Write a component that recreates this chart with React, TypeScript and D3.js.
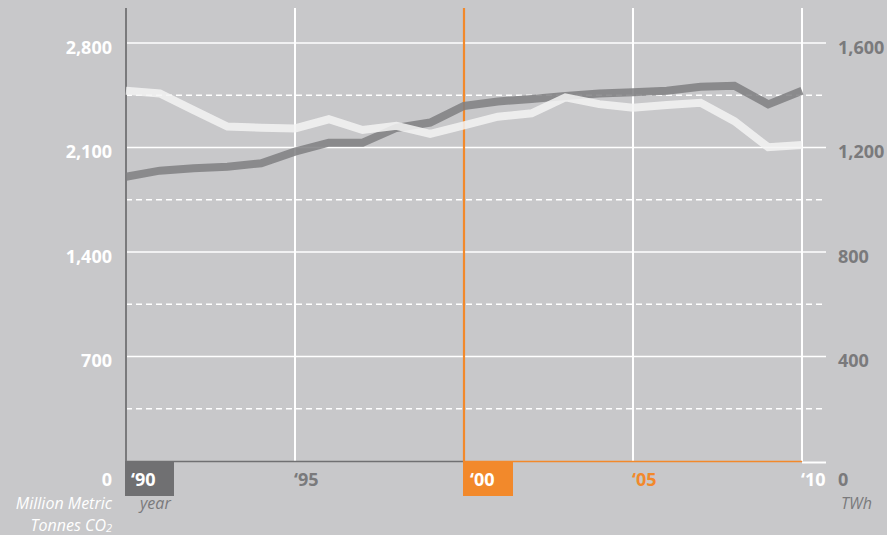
import React from "react";
import * as d3 from "d3";

const years = [1990, 1991, 1992, 1993, 1994, 1995, 1996, 1997, 1998, 1999, 2000, 2001, 2002, 2003, 2004, 2005, 2006, 2007, 2008, 2009, 2010];
// CO2 emissions, million metric tonnes (left axis)
const co2 = [1904, 1945, 1961, 1971, 1994, 2072, 2132, 2132, 2231, 2267, 2378, 2408, 2425, 2445, 2462, 2470, 2480, 2507, 2514, 2389, 2480];
// Electricity, TWh (right axis)
const twh = [1417, 1407, 1343, 1280, 1276, 1273, 1308, 1267, 1283, 1252, 1285, 1318, 1331, 1392, 1366, 1352, 1363, 1371, 1301, 1201, 1210];

const leftTicks = [700, 1400, 2100, 2800];
const leftTickLabels = ["700", "1,400", "2,100", "2,800"];
const rightTickLabels = ["400", "800", "1,200", "1,600"];
const dashedTicks = [350, 1050, 1750, 2450];
const xTicks = [1990, 1995, 2000, 2005, 2010];
const xTickLabels = ["\u201890", "\u201895", "\u201800", "\u201805", "\u201810"];

const W = 887, H = 535;
const BG = "#c8c8ca";
const ORANGE = "#f2892b";
const DARKGRAY = "#707072";
const LABELGRAY = "#7a7a7c";
const FONT = "'Open Sans', 'DejaVu Sans', sans-serif";
const FS = 18;
const IFS = 16;

export default function App() {
  const x = d3.scaleLinear().domain([1990, 2010]).range([126, 802]);
  const yL = d3.scaleLinear().domain([0, 2800]).range([461, 43]);
  const yR = d3.scaleLinear().domain([0, 1600]).range([461, 43]);
  const top = 8;
  const gridRight = 826;

  const lineL = d3.line<number>().x((_, i) => x(years[i])).y((d) => yL(d)).curve(d3.curveLinear);
  const lineR = d3.line<number>().x((_, i) => x(years[i])).y((d) => yR(d)).curve(d3.curveLinear);

  const labelColor = (i: number) => (i === 0 || i === 2 ? "#fff" : i === 1 ? LABELGRAY : i === 3 ? ORANGE : "#fff");

  return (
    <div style={{ position: "fixed", left: 0, top: 0, width: W, height: H, background: BG }}>
      <svg width={W} height={H} style={{ display: "block", fontFamily: FONT }}>
        <rect x={0} y={0} width={W} height={H} fill={BG} />
        {/* horizontal solid grid */}
        {leftTicks.map((t) => (
          <line key={"g" + t} x1={x(1990)} x2={gridRight} y1={yL(t)} y2={yL(t)} stroke="#fff" strokeWidth={1.6} />
        ))}
        {dashedTicks.map((t) => (
          <line key={"d" + t} x1={x(1990)} x2={gridRight} y1={yL(t)} y2={yL(t)} stroke="#fff" strokeWidth={1.4} strokeDasharray="6 4" />
        ))}
        {/* vertical white grid */}
        {[1995, 2005, 2010].map((yr) => (
          <line key={"v" + yr} x1={x(yr)} x2={x(yr)} y1={top} y2={yL(0)} stroke="#fff" strokeWidth={2} />
        ))}
        {/* bottom axis segments */}
        <line x1={x(1990)} x2={x(2000)} y1={yL(0) + 0.5} y2={yL(0) + 0.5} stroke={DARKGRAY} strokeWidth={1.5} />
        <line x1={x(2000)} x2={x(2010)} y1={yL(0) + 0.5} y2={yL(0) + 0.5} stroke={ORANGE} strokeWidth={1.5} />
        <line x1={x(2010)} x2={gridRight} y1={yL(0) + 1.5} y2={yL(0) + 1.5} stroke="#fff" strokeWidth={2} />
        {/* left axis & 2000 marker */}
        <line x1={x(1990)} x2={x(1990)} y1={top} y2={yL(0) + 1} stroke={LABELGRAY} strokeWidth={2} />
        <line x1={x(2000)} x2={x(2000)} y1={top} y2={yL(0) + 1} stroke={ORANGE} strokeWidth={2.2} />

        {/* data lines */}
        <path d={lineL(co2) || ""} fill="none" stroke="#7f7f81" strokeOpacity={0.85} strokeWidth={8} strokeLinejoin="miter" />
        <path d={lineR(twh) || ""} fill="none" stroke="#f3f3f3" strokeOpacity={0.85} strokeWidth={8} strokeLinejoin="miter" />

        {/* left tick labels */}
        {leftTicks.map((t, i) => (
          <text key={"ll" + t} x={112} y={yL(t) + 10.5} textAnchor="end" fill="#fff" fontWeight={700} fontSize={FS}>
            {leftTickLabels[i]}
          </text>
        ))}
        {leftTicks.map((t, i) => (
          <text key={"rl" + t} x={838} y={yL(t) + 10.5} textAnchor="start" fill={LABELGRAY} fontWeight={700} fontSize={FS}>
            {rightTickLabels[i]}
          </text>
        ))}
        <text x={112} y={486} textAnchor="end" fill="#fff" fontWeight={700} fontSize={FS}>0</text>
        <text x={838} y={486} textAnchor="start" fill={LABELGRAY} fontWeight={700} fontSize={FS}>0</text>

        {/* x tick boxes */}
        <rect x={x(1990) - 1} y={yL(0)} width={49} height={35} fill={DARKGRAY} />
        <rect x={x(2000) - 1} y={yL(0) + 1} width={50} height={34} fill={ORANGE} />
        {xTicks.map((yr, i) => (
          <text
            key={"xt" + yr}
            x={x(yr) + (i === 0 ? 5 : i === 2 ? 6 : -1)}
            y={486}
            fill={labelColor(i)}
            fontWeight={700}
            fontSize={FS}
          >
            {xTickLabels[i]}
          </text>
        ))}

        {/* axis titles */}
        <text x={140} y={509} fill={LABELGRAY} fontStyle="italic" fontSize={IFS}>year</text>
        <text x={112} y={509} textAnchor="end" fill="#fff" fontStyle="italic" fontSize={IFS}>Million Metric</text>
        <text x={112} y={531} textAnchor="end" fill="#fff" fontStyle="italic" fontSize={IFS}>
          Tonnes CO<tspan fontSize={11} dy={1}>2</tspan>
        </text>
        <text x={841} y={509} fill={LABELGRAY} fontStyle="italic" fontSize={IFS}>TWh</text>
      </svg>
    </div>
  );
}
